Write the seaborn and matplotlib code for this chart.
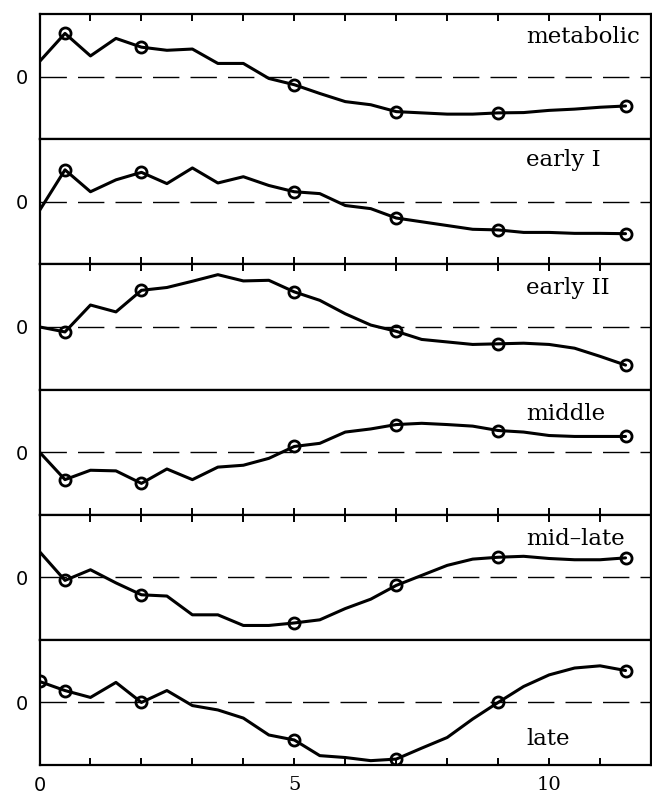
import numpy as np
import pandas as pd
import matplotlib
matplotlib.use('Agg')
import matplotlib.pyplot as plt
import seaborn as sns

# time course (hours), sampled every half hour
hours = np.arange(0, 12, 0.5)
# hours with an actual measurement (circles)
sample_hours = [0.5, 2, 5, 7, 9, 11.5]

metabolic = [0.24, 0.69, 0.33, 0.61, 0.47, 0.42, 0.44, 0.21, 0.21, -0.03, -0.13, -0.27,
             -0.40, -0.45, -0.56, -0.58, -0.60, -0.60, -0.58, -0.575, -0.54, -0.52, -0.49, -0.47]
early_i = [-0.14, 0.51, 0.16, 0.35, 0.47, 0.29, 0.54, 0.30, 0.40, 0.26, 0.16, 0.13,
           -0.06, -0.11, -0.26, -0.32, -0.38, -0.44, -0.45, -0.49, -0.49, -0.505, -0.505, -0.51]
early_ii = [0.0, -0.08, 0.35, 0.24, 0.585, 0.63, 0.73, 0.835, 0.735, 0.745, 0.56, 0.425,
            0.21, 0.03, -0.07, -0.20, -0.24, -0.28, -0.27, -0.26, -0.28, -0.34, -0.47, -0.61]
middle = [0.0, -0.44, -0.29, -0.30, -0.50, -0.27, -0.44, -0.24, -0.21, -0.10, 0.09, 0.14,
          0.32, 0.37, 0.44, 0.46, 0.44, 0.415, 0.345, 0.32, 0.265, 0.25, 0.25, 0.25]
mid_late = [0.41, -0.05, 0.12, -0.09, -0.28, -0.30, -0.60, -0.60, -0.77, -0.77, -0.73, -0.68,
            -0.50, -0.35, -0.13, 0.03, 0.19, 0.29, 0.32, 0.335, 0.30, 0.28, 0.28, 0.31]
late = [0.335, 0.19, 0.08, 0.32, 0.0, 0.19, -0.05, -0.12, -0.25, -0.52, -0.60, -0.85,
        -0.88, -0.93, -0.905, -0.73, -0.56, -0.265, 0.0, 0.255, 0.44, 0.55, 0.585, 0.51]

labels = ['metabolic', 'early I', 'early II', 'middle', 'mid\u2013late', 'late']
series = [metabolic, early_i, early_ii, middle, mid_late, late]
# baseline of each panel label, as a fraction of the panel height
label_y = [0.771, 0.787, 0.766, 0.755, 0.757, 0.161]

sns.set_style('ticks', rc={'axes.edgecolor': 'black', 'xtick.color': 'black',
                           'ytick.color': 'black', 'text.color': 'black'})
plt.rcParams['font.family'] = ['DejaVu Sans']

fig, axes = plt.subplots(6, 1, sharex=True, figsize=(6.52, 7.95), dpi=100)
fig.subplots_adjust(left=0.0606, right=0.9985, top=0.9824, bottom=0.0377, hspace=0)

for i, (ax, name, vals) in enumerate(zip(axes, labels, series)):
    vals = np.array(vals)
    marks = sample_hours + [0] if name == 'late' else sample_hours
    m = np.isin(hours, marks)

    ax.axhline(0, color='black', lw=1.0, ls=(0, (19, 8)), zorder=1)
    sns.lineplot(x=hours, y=vals, ax=ax, color='black', lw=2.2)
    sns.lineplot(x=hours[m], y=vals[m], ax=ax, color='black', marker='o', ls='',
                 mfc='none', mec='black', ms=8, mew=2.0)

    ax.set_xlim(0, 12)
    ax.set_ylim(-1, 1)
    ax.set_xlabel('')
    ax.set_ylabel('')
    ax.set_yticks([0])
    ax.set_yticklabels(['0'])
    ax.tick_params(axis='y', length=0, pad=8.5, labelsize=14)

    ax.text(9.55, label_y[i], name, transform=ax.get_xaxis_transform(), va='baseline',
            ha='left', family='DejaVu Serif', fontsize=16.5)

    for s in ax.spines.values():
        s.set_linewidth(1.6)

    if i % 2 == 0:
        ax.tick_params(axis='x', top=True, bottom=False, direction='in', length=5, width=1.4)
    else:
        ax.tick_params(axis='x', top=False, bottom=True, direction='in', length=5, width=1.4)

axes[-1].set_xticks(range(13))
axes[-1].set_xticklabels([str(t) if t % 5 == 0 else '' for t in range(13)])
axes[-1].tick_params(axis='x', labelsize=14, pad=8)
for lab in axes[-1].get_xticklabels():
    if lab.get_text() in ('5', '10'):
        lab.set_family('DejaVu Serif')

fig.savefig('out.png', dpi=100)
